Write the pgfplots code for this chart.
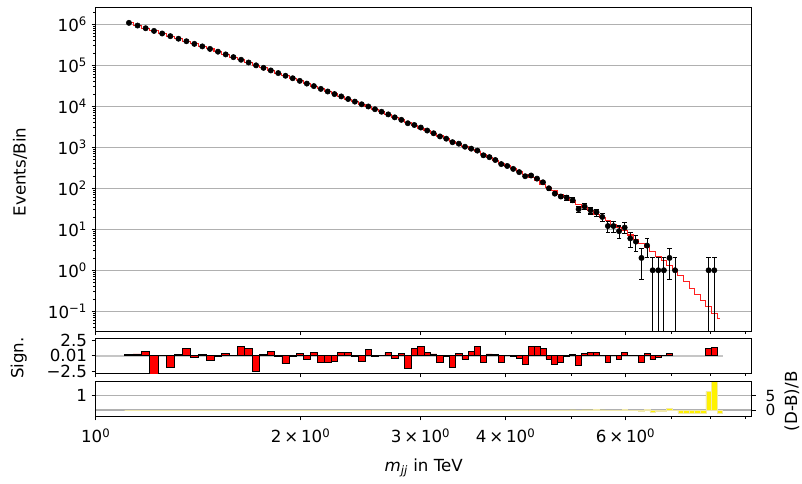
\documentclass[border=0pt]{standalone}
\usepackage{fontspec}
\setmainfont{DejaVu Sans}
\usepackage{pgfplots}
\usepackage{pgfplotstable}
\pgfplotsset{compat=1.18}
\pgfkeys{/pgf/number format/assume math mode=true}
\definecolor{gridgray}{HTML}{B0B0B0}
\definecolor{fitred}{HTML}{FF2020}
\definecolor{cream}{RGB}{240,232,170}
\newcommand{\lblfont}{\fontsize{12.5}{14}\selectfont}

\pgfplotstableread{
c N
1.119 1084200
1.152 931390
1.184 802371
1.218 689521
1.252 597000
1.287 513929
1.323 444733
1.359 386233
1.396 333215
1.434 289234
1.472 250849
1.512 214754
1.552 184250
1.593 158100
1.635 136334
1.677 117103
1.720 99733
1.764 86574
1.808 74845
1.854 64545
1.900 55557
1.947 48288
1.994 41661
2.042 35777
2.091 31058
2.141 26545
2.191 22948
2.242 19863
2.294 17406
2.348 15061
2.402 12989
2.458 11167
2.514 9896
2.571 8483
2.629 7362
2.689 6350
2.749 5373
2.811 4669
2.873 3861
2.937 3498
3.002 3029
3.068 2560
3.135 2197
3.203 1841
3.272 1622
3.342 1332
3.414 1223
3.486 1031
}\datahi

\pgfplotstableread{
c N ep em
3.560 925 30.4 30.4
3.635 829 28.8 28.8
3.710 638 25.3 25.3
3.786 575 24.0 24.0
3.863 489 22.1 22.1
3.941 389 19.7 19.7
4.021 350 18.7 18.7
4.103 297 17.2 17.2
4.187 248 15.7 15.7
4.272 197 14.0 14.0
4.359 205 14.3 14.3
4.447 172 13.1 13.1
4.537 140 11.8 11.8
4.629 100 10.0 10.0
4.723 74 8.6 8.6
4.819 63 7.9 7.9
4.917 59 7.7 7.7
5.017 51 7.1 7.1
5.119 31 5.6 5.6
5.223 36 6.0 6.0
5.330 29 5.4 5.4
5.438 26 5.1 5.1
5.545 20 4.5 4.5
5.651 12 3.5 3.5
5.759 12 3.5 3.5
5.869 9 3.0 3.0
5.981 11 3.3 3.3
6.096 6 2.4 2.4
6.213 5 2.2 2.2
6.331 2 1.41 1.41
6.452 4 2.0 2.0
6.576 1 1 0.999
6.701 1 1 0.999
6.829 1 1 0.999
6.960 2 1.41 1.41
7.093 1 1 0.999
7.946 1 1 0.999
8.098 1 1 0.999
}\datalo

\pgfplotstableread{
c B
1.119 1.084e6
1.152 9.311e5
1.184 8.017e5
1.218 6.918e5
1.252 5.970e5
1.287 5.152e5
1.323 4.446e5
1.359 3.855e5
1.396 3.334e5
1.434 2.891e5
1.472 2.512e5
1.512 2.148e5
1.552 1.841e5
1.593 1.581e5
1.635 1.358e5
1.677 1.167e5
1.720 1.005e5
1.764 8.650e4
1.808 7.464e4
1.854 6.457e4
1.900 5.585e4
1.947 4.831e4
1.994 4.159e4
2.042 3.589e4
2.091 3.097e4
2.141 2.673e4
2.191 2.312e4
2.242 2.000e4
2.294 1.734e4
2.348 1.500e4
2.402 1.300e4
2.458 1.127e4
2.514 9795
2.571 8492
2.629 7362
2.689 6310
2.749 5408
2.811 4645
2.873 3990
2.937 3428
3.002 2944
3.068 2535
3.135 2183
3.203 1884
3.272 1626
3.342 1403
3.414 1211
3.486 1047
3.560 905.7
3.635 785.2
3.710 666.8
3.786 567.5
3.863 483.1
3.941 411.1
4.021 349.9
4.103 298.5
4.187 254.1
4.272 216.3
4.359 184.1
4.447 152.4
4.537 126.5
4.629 105.0
4.723 86.90
4.819 72.11
4.917 59.84
5.017 49.55
5.119 41.11
5.223 34.12
5.330 28.31
5.438 23.28
5.545 19.28
5.651 16.03
5.759 13.34
5.869 11.09
5.981 9.162
6.096 7.244
6.213 5.728
6.331 4.539
6.452 3.589
6.576 2.825
6.701 2.193
6.829 1.702
6.960 1.321
7.093 1.028
7.228 0.7328
7.367 0.5188
7.508 0.3664
7.651 0.2588
7.797 0.1832
7.946 0.1330
8.098 0.0891
8.253 0.0684
}\fittab

\pgfplotstableread{
e s
1.103 0.2
1.135 0.3
1.168 0.75
1.201 -3
1.235 0
1.269 -1.77
1.305 0.2
1.341 1.18
1.377 -0.32
1.415 0.25
1.453 -0.7
1.492 -0.1
1.532 0.35
1.572 0
1.614 1.45
1.656 1.18
1.698 -2.42
1.742 0.25
1.786 0.75
1.831 -0.1
1.877 -1.24
1.924 -0.1
1.971 0.35
2.018 -0.6
2.067 0.5
2.116 -1.13
2.166 -1.13
2.216 -0.97
2.268 0.5
2.321 0.5
2.375 -0.1
2.430 -0.97
2.486 1.02
2.542 -0.1
2.600 0
2.659 0.5
2.719 -0.48
2.780 0.35
2.842 -2.04
2.905 1.2
2.969 1.56
3.035 0.5
3.101 0.3
3.169 -1.0
3.237 -0.1
3.307 -1.9
3.378 0.35
3.450 -0.5
3.523 0.65
3.598 1.56
3.673 -1.1
3.748 0.3
3.824 0.27
3.902 -1.1
3.981 0
4.062 -0.1
4.145 -0.4
4.229 -1.3
4.315 1.56
4.403 1.56
4.492 1.2
4.583 -0.5
4.676 -1.4
4.771 -1.1
4.868 -0.1
4.967 0.27
5.068 -1.55
5.171 0.35
5.276 0.48
5.384 0.6
5.493 0.1
5.598 -1.0
5.705 0
5.814 -0.5
5.925 0.6
6.038 0
6.154 0
6.272 -1.0
6.391 0.4
6.514 -0.6
6.638 -0.3
6.765 0
6.894 0.4
7.026 0
}\sigA

\pgfplotstableread{
e s
7.871 1.2
8.022 1.35
8.175 0
}\sigB

\pgfplotstableread{
e v
1.103 0
1.135 0
1.168 0
1.201 0
1.235 0
1.269 0
1.305 0
1.341 0
1.377 0
1.415 0
1.453 0
1.492 0
1.532 0
1.572 0
1.614 0
1.656 0
1.698 0
1.742 0
1.786 0
1.831 0
1.877 0
1.924 0
1.971 0
2.018 0
2.067 0
2.116 0
2.166 0
2.216 0
2.268 0
2.321 0
2.375 0
2.430 0
2.486 0
2.542 0
2.600 0
2.659 0
2.719 0
2.780 0
2.842 0
2.905 0
2.969 0
3.035 0
3.101 0
3.169 0
3.237 0
3.307 0
3.378 0
3.450 0
3.523 0
3.598 0
3.673 0
3.748 0
3.824 0
3.902 0
3.981 0
4.062 0
4.145 0
4.229 0
4.315 0
4.403 0
4.492 0
4.583 -0.05
4.676 -0.15
4.771 -0.13
4.868 -0.01
4.967 0.03
5.068 -0.25
5.171 0.06
5.276 0.02
5.384 0.12
5.493 0.04
5.598 -0.25
5.705 -0.1
5.814 -0.19
5.925 0.2
6.038 -0.17
6.154 -0.13
6.272 -0.56
6.391 0.11
6.514 -0.65
6.638 -0.54
6.765 -0.41
6.894 0.51
7.026 -0.03
7.160 -1
7.297 -1
7.437 -1
7.579 -1
7.724 -1
7.871 6.52
8.022 10.22
8.175 -1
8.331 0
}\ratio

\begin{document}
\begin{tikzpicture}
\path[use as bounding box] (0,0) rectangle (601.5pt,-363pt);

% ---------- top panel ----------
\begin{axis}[
  scale only axis, width=492pt, height=242.85pt,
  at={(71.775pt,-5.775pt)}, anchor=north west,
  xmode=log, xmin=1, xmax=9.19,
  ymode=log, ymin=0.0321, ymax=2.54e6,
  axis line style={line width=0.8pt},
  tick style={black, line width=0.6pt},
  tick align=outside, xtick pos=left, ytick pos=left,
  major tick length=3pt, minor tick length=2pt,
  xtick={1,2,3,4,6}, minor xtick={5,7,8,9}, xticklabels={},
  tick label style={font=\lblfont},
  ytick={1e-1,1,10,100,1000,1e4,1e5,1e6},
  yticklabels={10\textsuperscript{−1},10\textsuperscript{0},10\textsuperscript{1},10\textsuperscript{2},10\textsuperscript{3},10\textsuperscript{4},10\textsuperscript{5},10\textsuperscript{6}},
  minor ytick={0.04,0.05,0.06,0.07,0.08,0.09,0.2,0.3,0.4,0.5,0.6,0.7,0.8,0.9,2,3,4,5,6,7,8,9,20,30,40,50,60,70,80,90,200,300,400,500,600,700,800,900,2000,3000,4000,5000,6000,7000,8000,9000,2e4,3e4,4e4,5e4,6e4,7e4,8e4,9e4,2e5,3e5,4e5,5e5,6e5,7e5,8e5,9e5,2e6},
  ymajorgrids, grid style={gridgray, line width=0.8pt},
]
\addplot[fitred, line width=0.8pt, const plot mark mid] table[x=c, y=B] {\fittab};
\addplot[only marks, mark=*, mark size=2pt, black] table[x=c, y=N] {\datahi};
\addplot[only marks, mark=*, mark size=2pt, black,
  error bars/.cd, y dir=both, y explicit,
  error bar style={line width=0.8pt, black},
  error mark options={rotate=90, mark size=1.7pt, line width=0.8pt, black}]
  table[x=c, y=N, y error plus=ep, y error minus=em] {\datalo};
\end{axis}

% ---------- significance panel ----------
\begin{axis}[
  scale only axis, width=492pt, height=26.25pt,
  at={(71.775pt,-253.725pt)}, anchor=north west,
  xmode=log, xmin=1, xmax=9.19,
  ymin=-2.79, ymax=2.79,
  axis line style={line width=0.8pt},
  tick style={black, line width=0.6pt},
  tick align=outside, xtick pos=left, ytick pos=left,
  major tick length=3pt, minor tick length=2pt,
  xtick={1,2,3,4,6}, minor xtick={5,7,8,9}, xticklabels={},
  tick label style={font=\lblfont},
  ytick={-2.5,0.01,2.5}, yticklabels={−2.5,0.01,2.5},
]
\addplot[gray!45, line width=1.8pt] coordinates {(1,0) (8.331,0)};
\addplot[ybar interval, fill=red, draw=black, line width=0.6pt] table[x=e, y=s] {\sigA};
\addplot[ybar interval, fill=red, draw=black, line width=0.6pt] table[x=e, y=s] {\sigB};
\end{axis}

% ---------- (D-B)/B panel ----------
\begin{axis}[
  scale only axis, width=492pt, height=26.1pt,
  at={(71.775pt,-286.125pt)}, anchor=north west,
  xmode=log, xmin=1, xmax=9.19,
  ymin=-2.2, ymax=10,
  axis line style={line width=0.8pt},
  tick style={black, line width=0.6pt},
  tick align=outside, xtick pos=left, ytick pos=left,
  major tick length=3pt, minor tick length=2pt,
  xtick={1,2,3,4,6}, minor xtick={5,7,8,9},
  xticklabels={10\textsuperscript{0},2\,×\,10\textsuperscript{0},3\,×\,10\textsuperscript{0},4\,×\,10\textsuperscript{0},6\,×\,10\textsuperscript{0}},
  tick label style={font=\lblfont},
  xticklabel style={yshift=-2.5pt},
  ytick={5}, yticklabels={1},
]
\addplot[gridgray, line width=0.8pt] coordinates {(1,0) (9.19,0)};
\addplot[gridgray, line width=0.8pt] coordinates {(1,5) (9.19,5)};
\addplot[ybar interval, fill=yellow, draw=cream, line width=0.4pt] table[x=e, y=v] {\ratio};
\end{axis}
\begin{axis}[
  scale only axis, width=492pt, height=26.1pt,
  at={(71.775pt,-286.125pt)}, anchor=north west,
  xmode=log, xmin=1, xmax=9.19,
  ymin=-2.2, ymax=10,
  axis line style={line width=0.8pt},
  tick style={black, line width=0.6pt},
  tick align=outside, ytick pos=right, yticklabel pos=right,
  major tick length=3pt,
  xtick=\empty, minor xtick={},
  tick label style={font=\fontsize{11.5}{12}\selectfont},
  yticklabel style={inner ysep=0pt, xshift=4pt},
  ytick={0,5}, yticklabels={0,5},
]
\addplot[draw=none] coordinates {(2,0)};
\end{axis}

% ---------- labels ----------
\node[rotate=90, font=\lblfont] at (15pt,-129pt) {Events/Bin};
\node[rotate=90, font=\lblfont] at (14pt,-268.5pt) {Sign.};
\node[rotate=90, font=\lblfont] at (594pt,-301pt) {(D-B)/B};
\node[font=\lblfont] at (317.8pt,-351pt) {\textit{m}\textsubscript{\textit{jj}} in TeV};
\end{tikzpicture}
\end{document}
